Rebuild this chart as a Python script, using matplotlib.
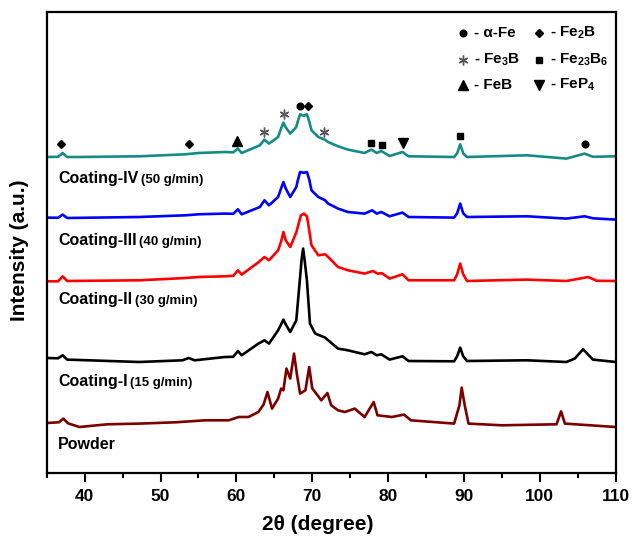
import matplotlib
matplotlib.use("Agg")
from matplotlib import pyplot as plt
from matplotlib.ticker import MultipleLocator

plt.rcParams['font.family'] = ['Liberation Sans', 'DejaVu Sans']
plt.rcParams['font.weight'] = 'bold'
plt.rcParams['mathtext.fontset'] = 'custom'
plt.rcParams['mathtext.rm'] = 'Liberation Sans:bold'
plt.rcParams['mathtext.it'] = 'Liberation Sans:bold'
plt.rcParams['mathtext.bf'] = 'Liberation Sans:bold'
plt.rcParams['mathtext.default'] = 'rm'

#%% Patterns (2theta in degree, intensity in a.u., stacked)
tt_iv = [35.0, 36.5, 37.1, 37.7, 39.3, 47.2, 53.3, 55.0, 58.5, 59.6, 60.2, 60.7, 63.1, 63.7, 64.3,
         65.5, 65.9, 66.2, 66.5, 67.1, 67.9, 68.1, 68.4, 68.9, 69.3, 69.6, 69.9, 70.8, 71.7, 72.1,
         73.4, 74.7, 76.9, 77.8, 78.5, 79.1, 80.2, 81.9, 82.7, 88.7, 89.1, 89.5, 89.9, 90.4, 98.3,
         103.5, 105.9, 107.0, 110.0]
int_iv = [316.3, 316.5, 320.3, 316.3, 316.3, 317.0, 319.0, 320.3, 321.3, 321.0, 324.7, 320.3, 328.0, 333.7, 329.7,
          336.3, 345.0, 350.7, 346.0, 339.7, 346.3, 352.0, 359.0, 357.5, 359.0, 352.0, 343.0, 336.3, 333.5, 331.3,
          327.0, 323.7, 320.3, 323.7, 320.3, 322.3, 317.3, 321.3, 317.0, 316.3, 320.0, 329.0, 320.0, 316.3, 318.0,
          314.7, 319.7, 316.5, 317.0]

tt_iii = [35.0, 36.5, 37.1, 37.7, 47.2, 53.3, 55.0, 58.5, 59.6, 60.2, 60.7, 63.1, 63.7, 64.3, 65.5,
          65.9, 66.2, 66.5, 67.1, 67.9, 68.1, 68.4, 68.9, 69.3, 69.6, 69.9, 70.8, 71.7, 72.1, 73.4,
          74.7, 76.9, 77.9, 78.5, 79.1, 80.2, 81.9, 82.7, 88.7, 89.1, 89.5, 89.9, 90.4, 98.3, 103.5,
          105.9, 107.0, 110.0]
int_iii = [255.7, 255.5, 258.7, 255.3, 256.3, 258.0, 259.0, 259.7, 259.5, 264.0, 259.0, 266.3, 273.0, 268.0, 276.3,
           285.0, 291.3, 285.0, 276.3, 286.3, 293.0, 301.3, 300.5, 301.3, 294.0, 283.0, 276.3, 273.0, 269.7, 264.7,
           261.3, 259.7, 263.0, 259.7, 261.3, 257.0, 260.7, 256.3, 255.7, 260.0, 269.7, 260.0, 256.3, 257.0, 254.7,
           257.0, 255.0, 253.7]

tt_ii = [35.0, 36.5, 37.1, 37.7, 47.2, 53.3, 55.0, 58.5, 59.6, 60.2, 60.7, 62.9, 63.7, 64.3, 65.5,
         65.9, 66.2, 66.5, 67.1, 67.9, 68.5, 68.9, 69.3, 69.5, 69.9, 70.8, 71.7, 72.1, 73.4, 74.7,
         76.9, 78.0, 78.6, 79.2, 80.2, 81.9, 82.7, 88.7, 89.1, 89.5, 89.9, 90.4, 98.3, 103.5, 106.4,
         107.5, 110.0]
int_ii = [192.0, 192.0, 197.0, 192.3, 193.0, 195.3, 196.3, 197.0, 197.5, 203.0, 198.7, 211.0, 216.3, 213.0, 223.0,
          232.0, 241.3, 233.0, 226.3, 241.0, 258.0, 259.7, 257.0, 248.0, 228.0, 218.0, 219.0, 216.3, 206.3, 203.0,
          199.7, 202.3, 199.7, 200.0, 194.7, 199.0, 193.0, 193.0, 199.0, 209.7, 199.0, 192.3, 193.7, 192.3, 196.3,
          192.5, 192.3]

tt_i = [35.0, 36.5, 37.1, 37.7, 47.2, 52.9, 53.7, 54.5, 58.5, 59.6, 60.2, 60.7, 62.9, 63.7, 64.3,
        65.5, 65.9, 66.2, 66.5, 67.1, 67.9, 68.4, 68.6, 68.8, 69.0, 69.3, 69.7, 70.4, 71.7, 72.1,
        73.4, 74.7, 76.9, 77.8, 78.5, 79.1, 80.2, 81.9, 82.7, 88.7, 89.1, 89.5, 89.9, 90.4, 98.3,
        103.5, 104.6, 105.7, 107.0, 110.0]
int_i = [115.3, 115.0, 118.0, 113.7, 111.3, 113.0, 115.3, 113.0, 116.3, 116.5, 122.3, 118.0, 129.7, 133.0, 129.7,
         143.0, 149.0, 153.7, 149.0, 141.3, 153.0, 196.3, 214.0, 224.7, 213.0, 193.0, 149.7, 139.7, 135.7, 133.0,
         124.7, 123.0, 119.0, 121.3, 118.0, 119.0, 113.7, 117.0, 112.3, 112.0, 117.0, 125.7, 117.0, 112.3, 113.0,
         111.3, 114.7, 124.0, 113.7, 111.3]

tt_pw = [35.0, 36.6, 37.2, 37.8, 39.3, 43.0, 47.2, 52.0, 55.9, 59.0, 60.3, 61.6, 62.9, 63.6, 64.1,
         64.7, 65.5, 65.9, 66.2, 66.6, 67.1, 67.6, 68.0, 68.4, 69.1, 69.6, 70.0, 71.2, 72.0, 72.5,
         73.4, 74.3, 75.6, 76.9, 78.1, 78.6, 80.5, 82.1, 83.0, 88.7, 89.4, 89.7, 90.1, 90.6, 95.0,
         102.2, 102.8, 103.3, 110.0]
int_pw = [50.3, 51.0, 54.7, 50.0, 46.3, 49.0, 49.7, 51.0, 53.0, 53.0, 56.3, 56.3, 61.3, 69.0, 81.3,
          64.7, 74.7, 84.7, 83.0, 104.7, 94.7, 119.7, 98.0, 79.7, 83.0, 106.3, 85.0, 73.0, 80.3, 68.0,
          63.0, 61.3, 64.7, 56.3, 71.3, 58.0, 56.3, 58.7, 53.0, 49.7, 68.0, 85.7, 68.0, 49.7, 48.0,
          49.0, 62.0, 49.7, 46.3]

patterns = [(tt_iv, int_iv, '#168B86'), (tt_iii, int_iii, '#0000FF'), (tt_ii, int_ii, '#FF0000'),
            (tt_i, int_i, '#000000'), (tt_pw, int_pw, '#7A0000')]

# Sample labels: name, feed rate, label baseline (intensity)
label_names = ['Coating-IV', 'Coating-III', 'Coating-II', 'Coating-I', 'Powder']
label_rates = ['(50 g/min)', '(40 g/min)', '(30 g/min)', '(15 g/min)', '']
label_y = [290.0, 228.0, 169.0, 87.0, 24.0]

# Phase markers on the top pattern
mark_tt = [36.9, 53.7, 60.1, 63.7, 66.3, 68.4, 69.4, 71.6, 77.7, 79.2, 81.9, 89.5, 106.0]
mark_int = [329.0, 329.7, 332.3, 341.3, 359.0, 367.3, 367.3, 341.3, 330.7, 328.7, 330.3, 337.0, 329.0]
mark_phase = ['Fe2B', 'Fe2B', 'FeB', 'Fe3B', 'Fe3B', 'aFe', 'Fe2B', 'Fe3B', 'Fe23B6', 'Fe23B6', 'FeP4', 'Fe23B6', 'aFe']

phase_style = {'aFe': ('o', 4.8), 'Fe2B': ('D', 4.2), 'Fe3B': ((6, 2, 0), 7), 'Fe23B6': ('s', 4.6),
               'FeB': ('^', 6.5), 'FeP4': ('v', 6.5)}
phase_text = {'aFe': '- α-Fe', 'Fe2B': r'- Fe$_2$B', 'Fe3B': r'- Fe$_3$B', 'Fe23B6': r'- Fe$_{23}$B$_6$',
              'FeB': '- FeB', 'FeP4': r'- FeP$_4$'}
key_order = [['aFe', 'Fe2B'], ['Fe3B', 'Fe23B6'], ['FeB', 'FeP4']]
key_y = [440.5, 413.0, 388.0]
key_x = [89.9, 99.9]

#%% Plot
fig = plt.figure(figsize=(6.34, 5.39), dpi=100)
ax = fig.add_axes([46.7/634, 1-473.3/539, 569/634, 461.6/539])

for tt, inten, col in patterns:
    ax.plot(tt, inten, color=col, lw=1.9, solid_joinstyle='round')

for name, rate, ly in zip(label_names, label_rates, label_y):
    t = ax.text(36.5, ly, name, fontsize=11.5, fontweight='bold', va='baseline', ha='left')
    if rate:
        ax.annotate(rate, xy=(1, 0), xycoords=t, xytext=(2, 0), textcoords='offset points',
                    fontsize=9.5, fontweight='bold', va='bottom', ha='left')

def draw_mark(x, y, phase):
    m, ms = phase_style[phase]
    if phase == 'Fe3B':
        ax.plot(x, y, marker=m, ms=ms, color='#555555', mew=1.0, ls='none')
    else:
        ax.plot(x, y, marker=m, ms=ms, color='black', ls='none')

for x, y, ph in zip(mark_tt, mark_int, mark_phase):
    draw_mark(x, y, ph)

for row, ky in zip(key_order, key_y):
    for ph, kx in zip(row, key_x):
        draw_mark(kx, ky, ph)
        ax.text(kx + 1.4, ky, phase_text[ph], fontsize=11, fontweight='bold', va='center', ha='left')

ax.set_xlim(35, 110)
ax.set_ylim(0, 461.6)
ax.xaxis.set_major_locator(MultipleLocator(10))
ax.xaxis.set_minor_locator(MultipleLocator(5))
ax.set_yticks([])
ax.tick_params(axis='x', which='major', direction='out', length=6.5, width=1.5, labelsize=12.5, pad=5)
ax.tick_params(axis='x', which='minor', direction='out', length=3.5, width=1.5)
for lab in ax.get_xticklabels():
    lab.set_fontweight('bold')
for sp_ in ax.spines.values():
    sp_.set_linewidth(1.6)

fig.text(318/634, 1-525/539, '2θ (degree)', fontsize=15, fontweight='bold', ha='center', va='center')
fig.text(20/634, 1-250/539, 'Intensity (a.u.)', fontsize=15, fontweight='bold', ha='center', va='center',
         rotation=90)

fig.savefig('out.png', dpi=100)
